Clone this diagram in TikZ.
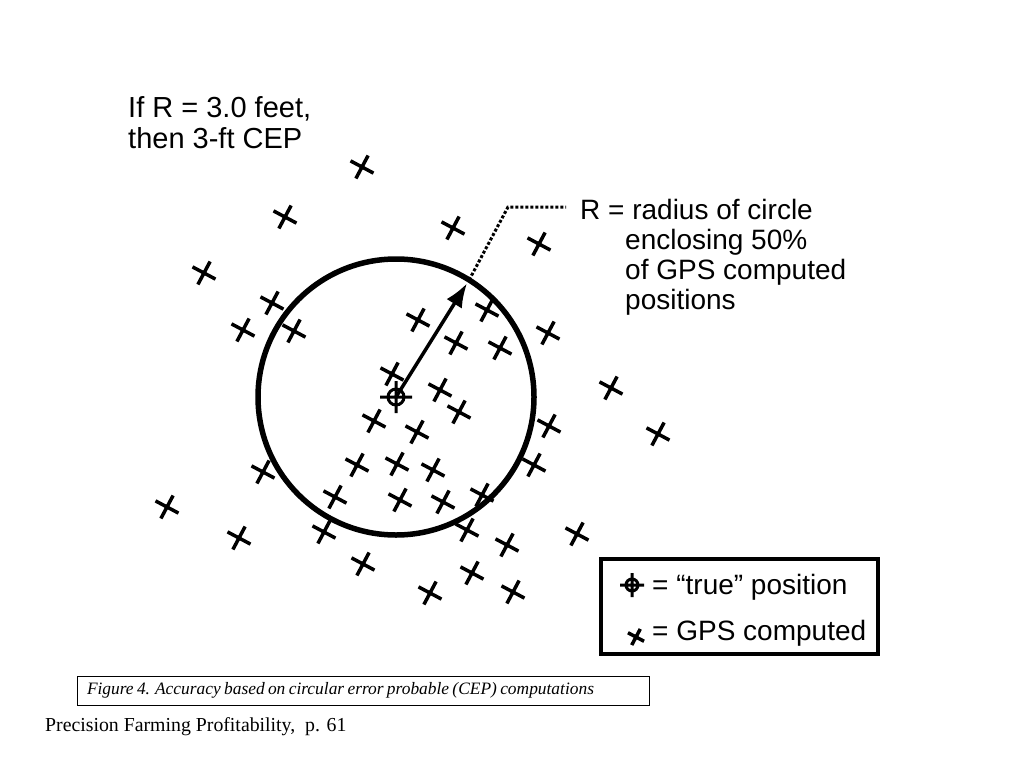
\documentclass[tikz,border=0pt]{standalone}
\usepackage{fontspec}
\setmainfont{Liberation Serif}
\newfontfamily\handfont{Liberation Sans}
\usetikzlibrary{positioning,calc,arrows.meta}

\begin{document}
\begin{tikzpicture}[x=1pt,y=-1pt,
  hand/.style={font=\handfont\fontsize{29}{30}\selectfont, inner sep=0pt, anchor=base west},
  smallhand/.style={hand, font=\handfont\fontsize{28}{30}\selectfont},
  gpsx/.pic={\draw[line width=3.5pt] (-13,0)--(13,0) (0,-13)--(0,13);},
  truemark/.pic={\draw[line width=3pt] (0,0) circle (8) (-16,0)--(16,0) (0,-16)--(0,16);}
]
\useasboundingbox (0,0) rectangle (1024,768);

% circle of radius R round the true position
\coordinate (ctr) at (396,397);
\draw[line width=5.5pt] (ctr) circle (138);
\pic at (ctr) {truemark};

% GPS computed positions
\foreach \px/\py in {362/167, 285/217, 453/228, 539/244, 204/273, 272/303, 243/330, 294/331,
  418/320, 487/310, 456/343, 500/348, 548/333, 392/374, 440/390, 459/412, 611/388,
  374/421, 417/432, 549/426, 658/434, 263/472, 357/465, 397/464, 433/470, 534/465,
  167/507, 335/497, 400/500, 443/502, 482/495, 239/538, 324/532, 467/530, 507/545,
  577/534, 363/564, 472/573, 430/593, 513/592}
  \pic[rotate=-28] at (\px,\py) {gpsx};

% radius arrow and its label
\coordinate (rim) at ($(ctr)+(-58:138)$);
\draw[-{Latex[length=24pt,width=18pt]}, line width=3.5pt] (ctr) -- ($(ctr)+(-58:134)$);
\coordinate (bend) at (508,207);
\coordinate (lead) at (566,207);
\draw[dotted, line width=3pt] (rim) -- (bend) -- (lead);

\node[smallhand] (rlabel) at (580,219) {R = radius of circle};
\node[smallhand] (rdesc1) at (625,249) {enclosing 50\%};
\node[smallhand] (rdesc2) at (625,279) {of GPS computed};
\node[smallhand] (rdesc3) at (625,309) {positions};

\node[hand] (cep1) at (128,117) {If R = 3.0 feet,};
\node[hand] (cep2) at (128,148) {then 3-ft CEP};

% legend
\node[draw, line width=4.5pt, minimum width=277, minimum height=95] (legend) at (739.5,606.5) {};
\pic[scale=0.75] at (632,585) {truemark};
\node[smallhand] (truetxt) at (652,594) {= “true” position};
\pic[rotate=-28, scale=0.7] at (636,637) {gpsx};
\node[smallhand] (gpstxt) at (652,640) {= GPS computed};

% caption
\node[draw, line width=0.8pt, minimum width=572, minimum height=29, text width=552,
  inner xsep=10, align=left] (caption) at (363,690.5)
  {\itshape\fontsize{17.4}{18}\selectfont Figure 4. Accuracy based on circular error probable (CEP) computations};
\node[anchor=west, inner sep=0pt, font=\fontsize{19.8}{20}\selectfont] (source) at (45,727)
  {Precision Farming Profitability,\ \ p. 61};
\end{tikzpicture}
\end{document}
